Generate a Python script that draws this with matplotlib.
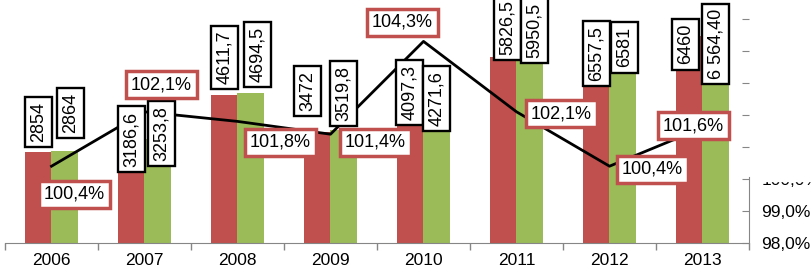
import numpy as np
import matplotlib.pyplot as plt
from matplotlib import rcParams
from matplotlib.patches import Rectangle
rcParams['font.family'] = 'Liberation Sans'
rcParams['font.size'] = 13

years = ['2006', '2007', '2008', '2009', '2010', '2011', '2012', '2013']
red_vals = [2854, 3186.6, 4611.7, 3472, 4097.3, 5826.5, 6557.5, 6460]
green_vals = [2864, 3253.8, 4694.5, 3519.8, 4271.6, 5950.5, 6581, 6564.4]
red_text = ['2854', '3186,6', '4611,7', '3472', '4097,3', '5826,5', '6557,5', '6460']
green_text = ['2864', '3253,8', '4694,5', '3519,8', '4271,6', '5950,5', '6581', '6 564,40']
growth = [100.4, 102.1, 101.8, 101.4, 104.3, 102.1, 100.4, 101.6]

# label nudges in pixels (hand placed labels in the original)
red_off = [(0, 30), (0, 2), (0, 38), (-10, 41), (-1, 19), (4, 29), (0, -20), (-4, -8)]
green_off = [(6, 38), (4, 5), (7, 38), (0, 37), (0, 8), (5, 22), (2, -15), (0, -11)]
line_off = [(23, -28), (17, 27), (43, -21), (45, -8), (-21, 19), (45, -2), (43, -3), (-9, 2)]

RED = '#C0504D'
GREEN = '#9BBB59'
GRAY = '#868686'

fig = plt.figure(figsize=(8.12, 2.72), dpi=100)
ax = fig.add_axes([5/812, 29/272, 744/812, 243/272])
x = np.arange(len(years))
w = 0.28
ax.bar(x - w/2, red_vals, w, color=RED, zorder=1)
ax.bar(x + w/2, green_vals, w, color=GREEN, zorder=1)
ax.set_xlim(-0.5, 7.5)
ax.set_ylim(0, 7593.75)
ax.set_xticks(x)
ax.set_xticklabels(years)
ax.set_xticks(np.arange(-0.5, 8, 1), minor=True)
ax.tick_params(axis='x', which='major', length=0, pad=7, labelsize=12.5)
ax.tick_params(axis='x', which='minor', length=5, color=GRAY, width=1)
ax.set_yticks([])
for s in ['left', 'top', 'right']:
    ax.spines[s].set_visible(False)
ax.spines['bottom'].set_color(GRAY)

ax2 = ax.twinx()
ax2.set_ylim(98, 98 + 243/32)
ax2.plot(x, growth, color='black', lw=2, zorder=2)
ax2.set_yticks(range(98, 106))
ax2.set_yticklabels(['98,0%', '99,0%', '100,0%', '', '', '', '', ''])
ax2.tick_params(axis='y', direction='in', length=5, color=GRAY, pad=9, labelsize=12.5)
for s in ['left', 'top', 'bottom']:
    ax2.spines[s].set_visible(False)
ax2.spines['right'].set_color(GRAY)
ax2.spines['right'].set_bounds(98, 100.05)

box_k = dict(boxstyle='square,pad=0.28', fc='white', ec='black', lw=1.7)
box_r = dict(boxstyle='square,pad=0.28', fc='white', ec=RED, lw=2.5)

for i in range(len(years)):
    ax2.annotate(red_text[i], (x[i] - w/2, red_vals[i]), xycoords=ax.transData,
                 xytext=red_off[i], textcoords='offset pixels', rotation=90,
                 ha='center', va='center', bbox=box_k, zorder=5)
    ax2.annotate(green_text[i], (x[i] + w/2, green_vals[i]), xycoords=ax.transData,
                 xytext=green_off[i], textcoords='offset pixels', rotation=90,
                 ha='center', va='center', bbox=box_k, zorder=5)
    ax2.annotate(('%.1f%%' % growth[i]).replace('.', ','), (x[i], growth[i]),
                 xytext=line_off[i], textcoords='offset pixels',
                 ha='center', va='center', bbox=box_r, zorder=6)

# the upper right tick labels are hidden in the original
fig.add_artist(Rectangle((752/812, (272 - 181)/272), 60/812, 181/272,
                         transform=fig.transFigure, color='white', zorder=10))

fig.savefig('out.png', dpi=100)
